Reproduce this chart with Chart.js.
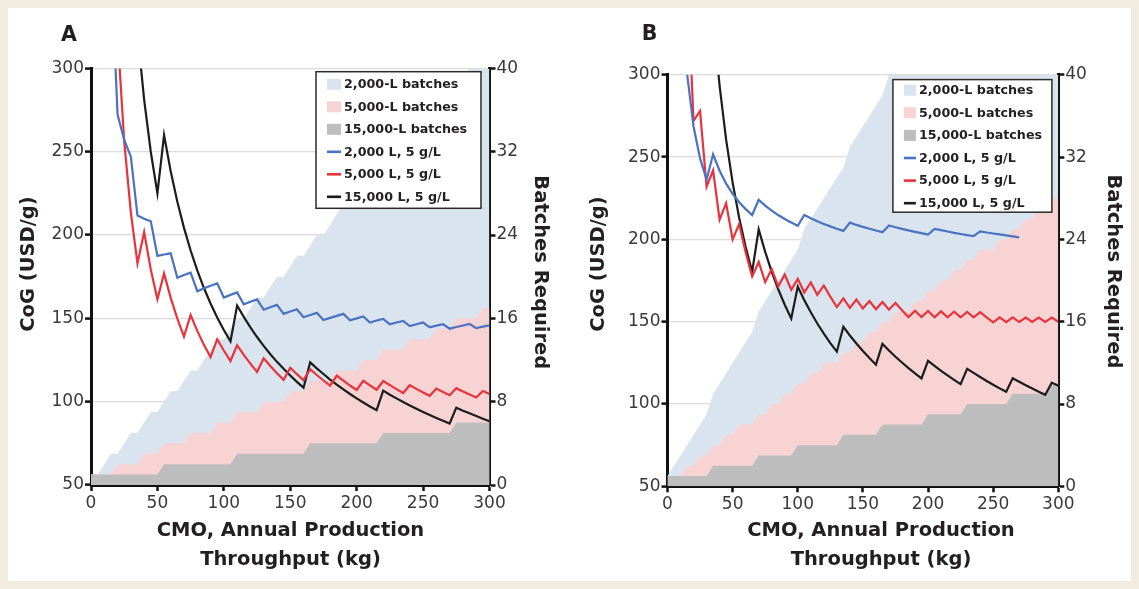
<!DOCTYPE html>
<html>
<head>
<meta charset="utf-8">
<script src="https://cdn.jsdelivr.net/npm/chart.js@4.4.1/dist/chart.umd.min.js"></script>
<style>
  html, body { margin: 0; padding: 0; }
  body { width: 1139px; height: 589px; background: #f1ebe0; position: relative; overflow: hidden; }
  #sheet { position: absolute; left: 8px; top: 8px; width: 1123px; height: 573px; background: #fff; }
  .panel { position: absolute; top: 8px; height: 573px; }
  #wrapA { left: 8px; width: 560px; }
  #wrapB { left: 576px; width: 555px; }
  canvas { display: block; }
</style>
</head>
<body>
<div id="sheet"></div>
<div class="panel" id="wrapA"><canvas id="chartA" width="560" height="573"></canvas></div>
<div class="panel" id="wrapB"><canvas id="chartB" width="555" height="573"></canvas></div>
<script>
// annual throughput (kg), one point every 5 kg
const kg = [0, 5, 10, 15, 20, 25, 30, 35, 40, 45, 50, 55, 60, 65, 70, 75, 80, 85, 90, 95,
  100, 105, 110, 115, 120, 125, 130, 135, 140, 145, 150, 155, 160, 165, 170, 175, 180, 185, 190, 195,
  200, 205, 210, 215, 220, 225, 230, 235, 240, 245, 250, 255, 260, 265, 270, 275, 280, 285, 290, 295, 300];

const kgTicks = [0, 50, 100, 150, 200, 250, 300];
const cogTicks = [50, 100, 150, 200, 250, 300];
const batchTicks = [0, 8, 16, 24, 32, 40];

const seriesNames = ['2,000-L batches', '5,000-L batches', '15,000-L batches',
  '2,000 L, 5 g/L', '5,000 L, 5 g/L', '15,000 L, 5 g/L'];

// ---- panel A ----
const batchesA2000 = [1, 1, 2, 3, 3, 4, 5, 5, 6, 7, 7, 8, 9, 9, 10, 11, 11, 12, 13, 14,
  14, 15, 16, 16, 17, 18, 18, 19, 20, 20, 21, 22, 22, 23, 24, 24, 25, 26, 27, 27,
  28, 29, 29, 30, 31, 31, 32, 33, 33, 34, 35, 35, 36, 37, 37, 38, 39, 40, 40, 41, 42];
const batchesA5000 = [1, 1, 1, 1, 2, 2, 2, 2, 3, 3, 3, 4, 4, 4, 4, 5, 5, 5, 5, 6,
  6, 6, 7, 7, 7, 7, 8, 8, 8, 8, 9, 9, 9, 10, 10, 10, 10, 11, 11, 11,
  11, 12, 12, 12, 13, 13, 13, 13, 14, 14, 14, 14, 15, 15, 15, 16, 16, 16, 16, 17, 17];
const batchesA15000 = [1, 1, 1, 1, 1, 1, 1, 1, 1, 1, 1, 2, 2, 2, 2, 2, 2, 2, 2, 2,
  2, 2, 3, 3, 3, 3, 3, 3, 3, 3, 3, 3, 3, 4, 4, 4, 4, 4, 4, 4,
  4, 4, 4, 4, 5, 5, 5, 5, 5, 5, 5, 5, 5, 5, 5, 6, 6, 6, 6, 6, 6];
const cogA2000 = [null, 696.4, 446.4, 363.1, 272.3, 257.1, 247.0, 211.7, 209.8, 208.3, 187.5, 188.3, 189.0, 174.4, 176.0, 177.4, 166.3, 168.0, 169.6, 171.0,
  162.5, 164.1, 165.6, 158.4, 160.0, 161.4, 155.2, 156.7, 158.1, 152.7, 154.1, 155.5, 150.7, 152.0, 153.3, 149.0, 150.3, 151.5, 152.7, 148.8,
  150.0, 151.1, 147.5, 148.7, 149.7, 146.4, 147.5, 148.5, 145.4, 146.5, 147.5, 144.6, 145.6, 146.5, 143.8, 144.8, 145.7, 146.6, 144.1, 145.0, 145.8];
const cogA5000 = [null, 948, 474, 316, 320.3, 256.2, 213.5, 183.0, 201.8, 179.3, 161.4, 177.0, 162.3, 149.8, 139.1, 152.0, 142.5, 134.1, 126.7, 137.5,
  130.7, 124.4, 133.9, 128.1, 122.8, 117.8, 126.1, 121.4, 117.1, 113.1, 120.4, 116.5, 112.9, 119.5, 116.0, 112.7, 109.6, 115.6, 112.6, 109.7,
  107.0, 112.5, 109.8, 107.2, 112.4, 109.9, 107.5, 105.2, 109.9, 107.7, 105.5, 103.5, 107.9, 105.8, 103.9, 108.1, 106.1, 104.3, 102.5, 106.4, 104.6];
const cogA15000 = [null, 2250, 1125, 750, 562.5, 450, 375, 321.4, 281.3, 250, 225, 260, 238.3, 220, 204.3, 190.7, 178.8, 168.2, 158.9, 150.5,
  143, 136.2, 157.7, 150.9, 144.6, 138.8, 133.5, 128.5, 123.9, 119.7, 115.7, 111.9, 108.4, 123.6, 120, 116.6, 113.3, 110.3, 107.4, 104.6,
  102, 99.5, 97.1, 94.9, 106.6, 104.2, 102, 99.8, 97.7, 95.7, 93.8, 92, 90.2, 88.5, 86.9, 96.4, 94.6, 93, 91.4, 89.8, 88.3];

// ---- panel B ----
const batchesB2000 = [1, 2, 3, 4, 5, 6, 7, 9, 10, 11, 12, 13, 14, 15, 17, 18, 19, 20, 21, 22,
  23, 25, 26, 27, 28, 29, 30, 31, 33, 34, 35, 36, 37, 38, 40, 41, 42, 43, 44, 45,
  46, 48, 49, 50, 51, 52, 53, 54, 56, 57, 58, 59, 60, 61, 62, 64, 65, 66, 67, 68, 69];
const batchesB5000 = [1, 1, 1, 2, 2, 3, 3, 4, 4, 5, 5, 6, 6, 6, 7, 7, 8, 8, 9, 9,
  10, 10, 11, 11, 12, 12, 12, 13, 13, 14, 14, 15, 15, 16, 16, 17, 17, 17, 18, 18,
  19, 19, 20, 20, 21, 21, 22, 22, 23, 23, 23, 24, 24, 25, 25, 26, 26, 27, 27, 28, 28];
const batchesB15000 = [1, 1, 1, 1, 1, 1, 1, 2, 2, 2, 2, 2, 2, 2, 3, 3, 3, 3, 3, 3,
  4, 4, 4, 4, 4, 4, 4, 5, 5, 5, 5, 5, 5, 6, 6, 6, 6, 6, 6, 6,
  7, 7, 7, 7, 7, 7, 8, 8, 8, 8, 8, 8, 8, 9, 9, 9, 9, 9, 9, 10, 10];
const cogB2000 = [null, 559, 365.4, 300.9, 268.6, 249.2, 236.3, 251.7, 241.7, 233.9, 227.7, 222.6, 218.4, 214.8, 224.0, 220.5, 217.5, 214.8, 212.4, 210.3,
  208.3, 214.8, 212.8, 211.0, 209.4, 207.9, 206.5, 205.2, 210.2, 208.8, 207.6, 206.5, 205.4, 204.4, 208.5, 207.4, 206.4, 205.5, 204.6, 203.8,
  203.0, 206.4, 205.6, 204.8, 204.0, 203.3, 202.6, 202.0, 204.9, 204.2, 203.6, 203.0, 202.4, 201.8, 201.2, null, null, null, null, null, null];
const cogB5000 = [null, 782, 392, 362, 272, 278, 232, 242, 212, 222, 200, 209.3, 192, 177.4, 186.3, 174, 182, 171.4, 178.7, 169.4,
  176, 167.7, 173.8, 166.3, 172, 165.2, 158.9, 164.2, 158.4, 163.4, 158, 162.6, 157.6, 162, 157.3, 161.4, 157, 152.8, 156.7, 152.8,
  156.5, 152.7, 156.3, 152.7, 156.1, 152.7, 155.9, 152.6, 155.8, 152.6, 149.6, 152.6, 149.7, 152.6, 149.8, 152.5, 149.9, 152.5, 149.9, 152.5, 150];
const cogB15000 = [null, 1805, 902.5, 601.7, 451.3, 361, 300.8, 335.0, 293.2, 260.6, 234.5, 213.2, 195.4, 180.4, 206.1, 192.4, 180.3, 169.7, 160.3, 151.9,
  171.3, 163.1, 155.7, 148.9, 142.7, 137.0, 131.8, 146.9, 141.6, 136.8, 132.2, 127.9, 123.9, 136.5, 132.5, 128.7, 125.2, 121.8, 118.6, 115.5,
  126.2, 123.1, 120.1, 117.4, 114.7, 112.1, 121.4, 118.9, 116.4, 114.0, 111.7, 109.5, 107.4, 115.6, 113.5, 111.4, 109.4, 107.5, 105.6, 113.0, 111.1];

const FONT = '"DejaVu Sans", sans-serif';
const INK = '#231f20';
const areaColors = ['#dae4ee', '#f8d3d4', '#bdbdbd'];
const lineColors = ['#4a72c2', '#e8333c', '#1c1c1c'];

// draws the boxed legend inside the plot, like the original figure
const boxLegend = {
  id: 'boxLegend',
  afterDraw(chart, args, o) {
    const ctx = chart.ctx;
    ctx.save();
    ctx.fillStyle = '#fff';
    ctx.fillRect(o.x, o.y, o.w, o.h);
    ctx.lineWidth = 1.5;
    ctx.strokeStyle = '#2b2b2b';
    ctx.strokeRect(o.x, o.y, o.w, o.h);
    ctx.font = 'bold 12.7px ' + FONT;
    ctx.textBaseline = 'middle';
    ctx.textAlign = 'left';
    chart.data.datasets.forEach((ds, i) => {
      const cy = o.firstRow + i * o.rowGap;
      if (ds.fill) {
        ctx.fillStyle = ds.backgroundColor;
        ctx.fillRect(o.x + o.swX, cy - 5.5, o.swW, 11);
      } else {
        ctx.fillStyle = ds.borderColor;
        ctx.fillRect(o.x + o.swX, cy - 1.3, o.swW, 2.6);
      }
      ctx.fillStyle = INK;
      ctx.fillText(ds.label, o.x + o.textX, cy + 0.5);
    });
    ctx.restore();
  }
};

// panel letter and axis titles
const panelText = {
  id: 'panelText',
  afterDraw(chart, args, o) {
    const ctx = chart.ctx;
    ctx.save();
    ctx.fillStyle = INK;
    ctx.textAlign = 'center';
    ctx.textBaseline = 'middle';
    o.items.forEach(t => {
      ctx.save();
      ctx.translate(t.x, t.y);
      ctx.rotate(t.rot || 0);
      ctx.font = t.font;
      [].concat(t.text).forEach((line, i) => ctx.fillText(line, 0, i * (t.lh || 0)));
      ctx.restore();
    });
    ctx.restore();
  }
};

function makePanel(canvasId, size, plot, series, texts, legend) {
  const pts = arr => arr.map((v, i) => ({ x: kg[i], y: v }));
  const area = (k) => ({
    label: seriesNames[k], data: pts(series[k]), yAxisID: 'yB',
    backgroundColor: areaColors[k], borderColor: 'rgba(0,0,0,0)', borderWidth: 0,
    pointRadius: 0, fill: 'origin', order: 3 - k
  });
  const line = (k) => ({
    label: seriesNames[k + 3], data: pts(series[k + 3]), yAxisID: 'y',
    borderColor: lineColors[k], backgroundColor: lineColors[k], borderWidth: 2.2,
    pointRadius: 0, fill: false, order: 0, spanGaps: false
  });
  const tickFont = { family: FONT, size: 17 };
  const useTicks = list => (s) => { s.ticks = list.map(v => ({ value: v })); };

  return new Chart(document.getElementById(canvasId), {
    type: 'line',
    data: { datasets: [area(0), area(1), area(2), line(0), line(1), line(2)] },
    options: {
      responsive: false,
      animation: false,
      layout: { padding: { top: plot.top, left: 0, right: 0, bottom: 0 } },
      plugins: {
        legend: { display: false },
        tooltip: { enabled: false },
        boxLegend: legend,
        panelText: { items: texts }
      },
      scales: {
        x: {
          type: 'linear', min: 0, max: 300,
          afterBuildTicks: useTicks(kgTicks),
          afterFit: s => { s.height = size.h - plot.bottom; },
          grid: { drawOnChartArea: false, drawTicks: true, tickLength: 6, tickColor: '#111', tickWidth: 2.5 },
          border: { display: true, color: '#111', width: 3 },
          ticks: { color: '#3a3a3a', font: tickFont, padding: 2, maxRotation: 0, autoSkip: false }
        },
        y: {
          position: 'left', min: 50, max: 300,
          afterBuildTicks: useTicks(cogTicks),
          afterFit: s => { s.width = plot.left; },
          grid: { color: '#dcdcdc', lineWidth: 1.2, drawTicks: true, tickLength: 6, tickColor: '#111', tickWidth: 2.5 },
          border: { display: true, color: '#111', width: 3 },
          ticks: { color: '#3a3a3a', font: tickFont, padding: 1, autoSkip: false }
        },
        yB: {
          position: 'right', min: 0, max: 40,
          afterBuildTicks: useTicks(batchTicks),
          afterFit: s => { s.width = size.w - plot.right; },
          grid: { drawOnChartArea: false, drawTicks: true, tickLength: 6, tickColor: '#111', tickWidth: 2.5 },
          border: { display: true, color: '#111', width: 3 },
          ticks: { color: '#3a3a3a', font: tickFont, padding: 1, autoSkip: false }
        }
      }
    },
    plugins: [boxLegend, panelText]
  });
}

const titleFont = 'bold 19.5px ' + FONT;
const letterFont = 'bold 20.5px ' + FONT;

makePanel('chartA', { w: 560, h: 573 }, { left: 83, right: 481.5, top: 60.4, bottom: 477 },
  [batchesA2000, batchesA5000, batchesA15000, cogA2000, cogA5000, cogA15000],
  [
    { text: 'A', x: 61, y: 27.7, font: letterFont },
    { text: 'CoG (USD/g)', x: 21, y: 256, rot: -Math.PI / 2, font: titleFont },
    { text: 'Batches Required', x: 531.6, y: 264.3, rot: Math.PI / 2, font: titleFont },
    { text: ['CMO, Annual Production', 'Throughput (kg)'], x: 282.5, y: 523, lh: 29, font: titleFont }
  ],
  { x: 308, y: 63.7, w: 165, h: 136.6, firstRow: 76.3, rowGap: 22.5, swX: 11, swW: 14, textX: 28 });

makePanel('chartB', { w: 555, h: 573 }, { left: 91.5, right: 482.3, top: 66.8, bottom: 478.3 },
  [batchesB2000, batchesB5000, batchesB15000, cogB2000, cogB5000, cogB15000],
  [
    { text: 'B', x: 73.5, y: 26.6, font: letterFont },
    { text: 'CoG (USD/g)', x: 23, y: 256, rot: -Math.PI / 2, font: titleFont },
    { text: 'Batches Required', x: 536.7, y: 263.4, rot: Math.PI / 2, font: titleFont },
    { text: ['CMO, Annual Production', 'Throughput (kg)'], x: 305, y: 523, lh: 29, font: titleFont }
  ],
  { x: 316.9, y: 71.6, w: 159, h: 132.6, firstRow: 82.2, rowGap: 22.6, swX: 11, swW: 12, textX: 26 });
</script>
</body>
</html>
